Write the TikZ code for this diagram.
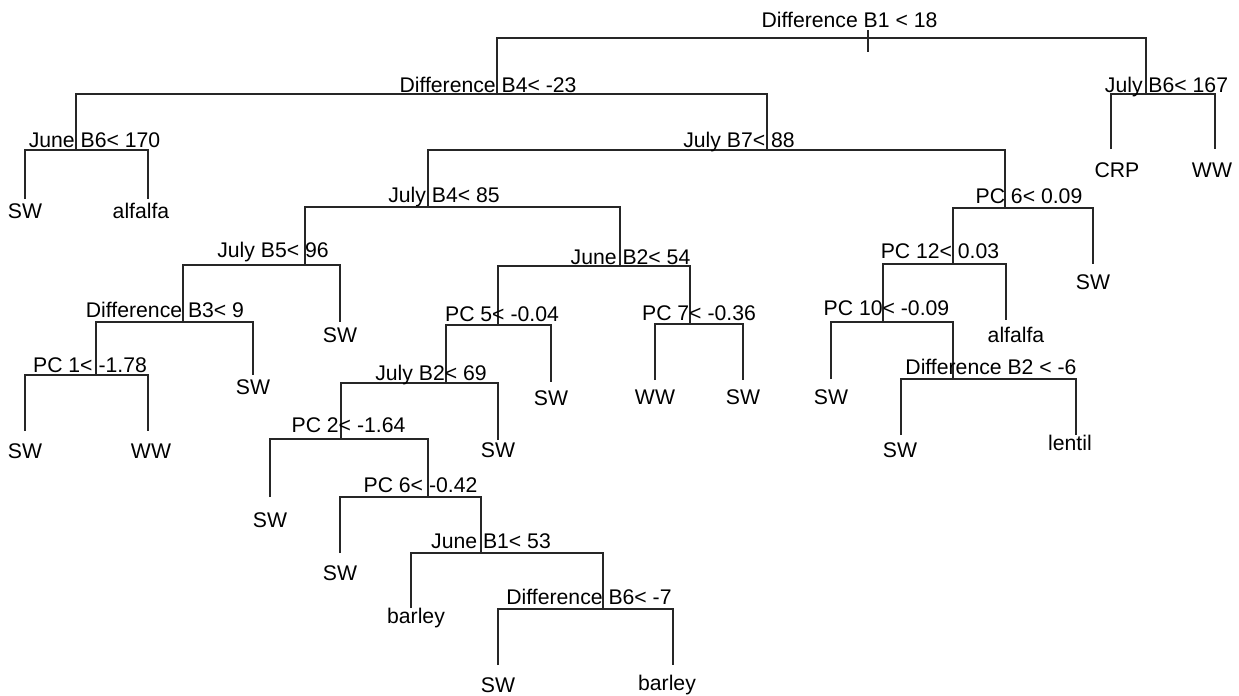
\documentclass[tikz,border=0pt]{standalone}
\usepackage{fontspec}
\setmainfont{Liberation Sans}
\usepackage{tikz}

\begin{document}
\begin{tikzpicture}[x=0.5pt, y=-0.5pt,
  branch/.style={draw=black!85, line width=0.75pt},
  splitlabel/.style={anchor=base, inner sep=0pt, font=\fontsize{10.6pt}{12pt}\selectfont},
  leaflabel/.style={anchor=base, inner sep=0pt, font=\fontsize{10.6pt}{12pt}\selectfont}]

 % frame of the picture (pixel units of the plot)
 \useasboundingbox (0,0) rectangle (1239,696);

 % split points of the tree
 \coordinate (root) at (868,38);
 \coordinate (dbfour) at (497,94);
 \coordinate (jlbsix) at (1146,94);
 \coordinate (jnbsix) at (76,150);
 \coordinate (jlbseven) at (767,150);
 \coordinate (jlbfour) at (428,207);
 \coordinate (pcsixa) at (1005,208);
 \coordinate (jlbfive) at (305,265);
 \coordinate (jnbtwo) at (620,266);
 \coordinate (pctwelve) at (953,264);
 \coordinate (dbthree) at (183,322);
 \coordinate (pcfive) at (498,325);
 \coordinate (pcseven) at (690,324);
 \coordinate (pcten) at (883,322);
 \coordinate (pcone) at (96,375);
 \coordinate (jlbtwo) at (446,383);
 \coordinate (dbtwo) at (953,379);
 \coordinate (pctwo) at (341,439);
 \coordinate (pcsixb) at (428,497);
 \coordinate (jnbone) at (481,553);
 \coordinate (dbsix) at (603,609);

 % end points of the leaves
 \coordinate (lfa) at (25,199);
 \coordinate (lfb) at (148,199);
 \coordinate (lfc) at (1111,149);
 \coordinate (lfd) at (1215,149);
 \coordinate (lfe) at (1093,264);
 \coordinate (lff) at (340,322);
 \coordinate (lfg) at (253,375);
 \coordinate (lfh) at (25,431);
 \coordinate (lfi) at (148,431);
 \coordinate (lfj) at (551,382);
 \coordinate (lfk) at (655,380);
 \coordinate (lfl) at (743,380);
 \coordinate (lfm) at (1006,320);
 \coordinate (lfn) at (831,379);
 \coordinate (lfo) at (901,435);
 \coordinate (lfp) at (1076,435);
 \coordinate (lfq) at (498,440);
 \coordinate (lfr) at (270,497);
 \coordinate (lfs) at (340,553);
 \coordinate (lft) at (411,608);
 \coordinate (lfu) at (498,665);
 \coordinate (lfv) at (673,665);

 % mark on the root
 \draw [branch] (root) ++(0,-8) -- ++(0,22);

 % branches, left child |- split -| right child
 \draw [branch] (dbfour) |- (root) -| (jlbsix);
 \draw [branch] (jnbsix) |- (dbfour) -| (jlbseven);
 \draw [branch] (lfc) |- (jlbsix) -| (lfd);
 \draw [branch] (lfa) |- (jnbsix) -| (lfb);
 \draw [branch] (jlbfour) |- (jlbseven) -| (pcsixa);
 \draw [branch] (jlbfive) |- (jlbfour) -| (jnbtwo);
 \draw [branch] (pctwelve) |- (pcsixa) -| (lfe);
 \draw [branch] (dbthree) |- (jlbfive) -| (lff);
 \draw [branch] (pcfive) |- (jnbtwo) -| (pcseven);
 \draw [branch] (pcten) |- (pctwelve) -| (lfm);
 \draw [branch] (pcone) |- (dbthree) -| (lfg);
 \draw [branch] (jlbtwo) |- (pcfive) -| (lfj);
 \draw [branch] (lfk) |- (pcseven) -| (lfl);
 \draw [branch] (lfn) |- (pcten) -| (dbtwo);
 \draw [branch] (lfh) |- (pcone) -| (lfi);
 \draw [branch] (pctwo) |- (jlbtwo) -| (lfq);
 \draw [branch] (lfo) |- (dbtwo) -| (lfp);
 \draw [branch] (lfr) |- (pctwo) -| (pcsixb);
 \draw [branch] (lfs) |- (pcsixb) -| (jnbone);
 \draw [branch] (lft) |- (jnbone) -| (dbsix);
 \draw [branch] (lfu) |- (dbsix) -| (lfv);

 % split rules
 \node [splitlabel] (rootlab) at (849.5,27) {Difference B1 < 18};
 \node [splitlabel] (dbfourlab) at (488,92) {Difference B4< -23};
 \node [splitlabel] (jlbsixlab) at (1166.5,92) {July B6< 167};
 \node [splitlabel] (jnbsixlab) at (94.5,147) {June B6< 170};
 \node [splitlabel] (jlbsevenlab) at (739,147) {July B7< 88};
 \node [splitlabel] (jlbfourlab) at (444,202) {July B4< 85};
 \node [splitlabel] (pcsixalab) at (1029,203) {PC 6< 0.09};
 \node [splitlabel] (jlbfivelab) at (273,257) {July B5< 96};
 \node [splitlabel] (jnbtwolab) at (630.5,264) {June B2< 54};
 \node [splitlabel] (pctwelvelab) at (940,258) {PC 12< 0.03};
 \node [splitlabel] (dbthreelab) at (165,317) {Difference B3< 9};
 \node [splitlabel] (pcfivelab) at (502,321) {PC 5< -0.04};
 \node [splitlabel] (pcsevenlab) at (699,320) {PC 7< -0.36};
 \node [splitlabel] (pctenlab) at (886.5,315) {PC 10< -0.09};
 \node [splitlabel] (pconelab) at (90,372) {PC 1< -1.78};
 \node [splitlabel] (jlbtwolab) at (431,380) {July B2< 69};
 \node [splitlabel] (dbtwolab) at (991,374) {Difference B2 < -6};
 \node [splitlabel] (pctwolab) at (348.5,432) {PC 2< -1.64};
 \node [splitlabel] (pcsixblab) at (420.5,492) {PC 6< -0.42};
 \node [splitlabel] (jnbonelab) at (491,548) {June B1< 53};
 \node [splitlabel] (dbsixlab) at (589,604) {Difference B6< -7};

 % classes at the leaves
 \node [leaflabel] (lfalab) at (25,218) {SW};
 \node [leaflabel] (lfblab) at (141,218) {alfalfa};
 \node [leaflabel] (lfclab) at (1117,177) {CRP};
 \node [leaflabel] (lfdlab) at (1212,177) {WW};
 \node [leaflabel] (lfelab) at (1093,289) {SW};
 \node [leaflabel] (lfflab) at (340,342) {SW};
 \node [leaflabel] (lfglab) at (253,394) {SW};
 \node [leaflabel] (lfhlab) at (25,458) {SW};
 \node [leaflabel] (lfilab) at (151,458) {WW};
 \node [leaflabel] (lfjlab) at (551,405) {SW};
 \node [leaflabel] (lfklab) at (655,404) {WW};
 \node [leaflabel] (lfllab) at (743,404) {SW};
 \node [leaflabel] (lfmlab) at (1016,342) {alfalfa};
 \node [leaflabel] (lfnlab) at (831,404) {SW};
 \node [leaflabel] (lfolab) at (900,457) {SW};
 \node [leaflabel] (lfplab) at (1070,450) {lentil};
 \node [leaflabel] (lfqlab) at (498,457) {SW};
 \node [leaflabel] (lfrlab) at (270,527) {SW};
 \node [leaflabel] (lfslab) at (340,580) {SW};
 \node [leaflabel] (lftlab) at (416,623) {barley};
 \node [leaflabel] (lfulab) at (498,692) {SW};
 \node [leaflabel] (lfvlab) at (667,690) {barley};

\end{tikzpicture}
\end{document}
